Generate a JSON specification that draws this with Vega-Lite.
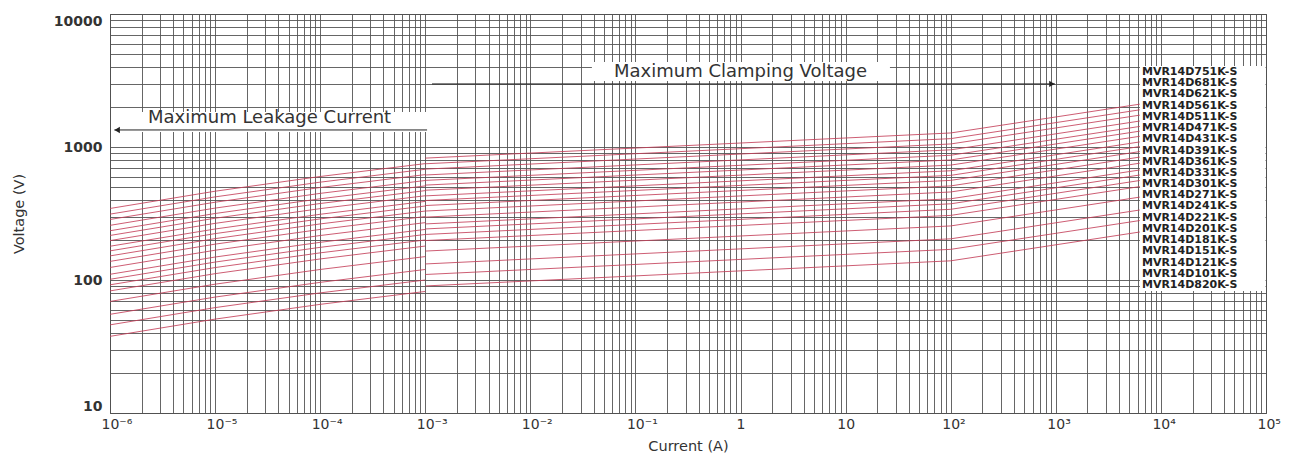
{
  "$schema": "https://vega.github.io/schema/vega-lite/v6.json",
  "width": 1156,
  "height": 399,
  "autosize": {"type": "none"},
  "padding": {"left": 110, "top": 14, "right": 30, "bottom": 48},
  "background": "white",
  "config": {
    "view": {"stroke": "#333", "strokeWidth": 1},
    "font": "DejaVu Sans",
    "axis": {
      "domain": false,
      "ticks": false,
      "grid": true,
      "gridColor": "#555",
      "gridWidth": 0.9,
      "gridOpacity": 1,
      "labelOverlap": false,
      "labelBound": false,
      "labelColor": "#333",
      "titleColor": "#333",
      "titleFont": "DejaVu Sans",
      "titleFontWeight": "normal",
      "titleFontSize": 14.5
    }
  },
  "datasets": {
    "lines": [
      {"p":"820","s":"L","i":1e-6,"v":37.7},{"p":"820","s":"L","i":1e-5,"v":50.8},{"p":"820","s":"L","i":1e-4,"v":65.6},{"p":"820","s":"L","i":1e-3,"v":82},{"p":"820","s":"C","i":1e-3,"v":90.2},{"p":"820","s":"C","i":100,"v":139.4},{"p":"820","s":"C","i":6310,"v":229.6},
      {"p":"101","s":"L","i":1e-6,"v":46},{"p":"101","s":"L","i":1e-5,"v":62},{"p":"101","s":"L","i":1e-4,"v":80},{"p":"101","s":"L","i":1e-3,"v":100},{"p":"101","s":"C","i":1e-3,"v":110},{"p":"101","s":"C","i":100,"v":170},{"p":"101","s":"C","i":6310,"v":280},
      {"p":"121","s":"L","i":1e-6,"v":55.2},{"p":"121","s":"L","i":1e-5,"v":74.4},{"p":"121","s":"L","i":1e-4,"v":96},{"p":"121","s":"L","i":1e-3,"v":120},{"p":"121","s":"C","i":1e-3,"v":132},{"p":"121","s":"C","i":100,"v":204},{"p":"121","s":"C","i":6310,"v":336},
      {"p":"151","s":"L","i":1e-6,"v":69},{"p":"151","s":"L","i":1e-5,"v":93},{"p":"151","s":"L","i":1e-4,"v":120},{"p":"151","s":"L","i":1e-3,"v":150},{"p":"151","s":"C","i":1e-3,"v":165},{"p":"151","s":"C","i":100,"v":255},{"p":"151","s":"C","i":6310,"v":420},
      {"p":"181","s":"L","i":1e-6,"v":82.8},{"p":"181","s":"L","i":1e-5,"v":111.6},{"p":"181","s":"L","i":1e-4,"v":144},{"p":"181","s":"L","i":1e-3,"v":180},{"p":"181","s":"C","i":1e-3,"v":198},{"p":"181","s":"C","i":100,"v":306},{"p":"181","s":"C","i":6310,"v":504},
      {"p":"201","s":"L","i":1e-6,"v":92},{"p":"201","s":"L","i":1e-5,"v":124},{"p":"201","s":"L","i":1e-4,"v":160},{"p":"201","s":"L","i":1e-3,"v":200},{"p":"201","s":"C","i":1e-3,"v":220},{"p":"201","s":"C","i":100,"v":340},{"p":"201","s":"C","i":6310,"v":560},
      {"p":"221","s":"L","i":1e-6,"v":101.2},{"p":"221","s":"L","i":1e-5,"v":136.4},{"p":"221","s":"L","i":1e-4,"v":176},{"p":"221","s":"L","i":1e-3,"v":220},{"p":"221","s":"C","i":1e-3,"v":242},{"p":"221","s":"C","i":100,"v":374},{"p":"221","s":"C","i":6310,"v":616},
      {"p":"241","s":"L","i":1e-6,"v":110.4},{"p":"241","s":"L","i":1e-5,"v":148.8},{"p":"241","s":"L","i":1e-4,"v":192},{"p":"241","s":"L","i":1e-3,"v":240},{"p":"241","s":"C","i":1e-3,"v":264},{"p":"241","s":"C","i":100,"v":408},{"p":"241","s":"C","i":6310,"v":672},
      {"p":"271","s":"L","i":1e-6,"v":124.2},{"p":"271","s":"L","i":1e-5,"v":167.4},{"p":"271","s":"L","i":1e-4,"v":216},{"p":"271","s":"L","i":1e-3,"v":270},{"p":"271","s":"C","i":1e-3,"v":297},{"p":"271","s":"C","i":100,"v":459},{"p":"271","s":"C","i":6310,"v":756},
      {"p":"301","s":"L","i":1e-6,"v":138},{"p":"301","s":"L","i":1e-5,"v":186},{"p":"301","s":"L","i":1e-4,"v":240},{"p":"301","s":"L","i":1e-3,"v":300},{"p":"301","s":"C","i":1e-3,"v":330},{"p":"301","s":"C","i":100,"v":510},{"p":"301","s":"C","i":6310,"v":840},
      {"p":"331","s":"L","i":1e-6,"v":151.8},{"p":"331","s":"L","i":1e-5,"v":204.6},{"p":"331","s":"L","i":1e-4,"v":264},{"p":"331","s":"L","i":1e-3,"v":330},{"p":"331","s":"C","i":1e-3,"v":363},{"p":"331","s":"C","i":100,"v":561},{"p":"331","s":"C","i":6310,"v":924},
      {"p":"361","s":"L","i":1e-6,"v":165.6},{"p":"361","s":"L","i":1e-5,"v":223.2},{"p":"361","s":"L","i":1e-4,"v":288},{"p":"361","s":"L","i":1e-3,"v":360},{"p":"361","s":"C","i":1e-3,"v":396},{"p":"361","s":"C","i":100,"v":612},{"p":"361","s":"C","i":6310,"v":1008},
      {"p":"391","s":"L","i":1e-6,"v":179.4},{"p":"391","s":"L","i":1e-5,"v":241.8},{"p":"391","s":"L","i":1e-4,"v":312},{"p":"391","s":"L","i":1e-3,"v":390},{"p":"391","s":"C","i":1e-3,"v":429},{"p":"391","s":"C","i":100,"v":663},{"p":"391","s":"C","i":6310,"v":1092},
      {"p":"431","s":"L","i":1e-6,"v":197.8},{"p":"431","s":"L","i":1e-5,"v":266.6},{"p":"431","s":"L","i":1e-4,"v":344},{"p":"431","s":"L","i":1e-3,"v":430},{"p":"431","s":"C","i":1e-3,"v":473},{"p":"431","s":"C","i":100,"v":731},{"p":"431","s":"C","i":6310,"v":1204},
      {"p":"471","s":"L","i":1e-6,"v":216.2},{"p":"471","s":"L","i":1e-5,"v":291.4},{"p":"471","s":"L","i":1e-4,"v":376},{"p":"471","s":"L","i":1e-3,"v":470},{"p":"471","s":"C","i":1e-3,"v":517},{"p":"471","s":"C","i":100,"v":799},{"p":"471","s":"C","i":6310,"v":1316},
      {"p":"511","s":"L","i":1e-6,"v":234.6},{"p":"511","s":"L","i":1e-5,"v":316.2},{"p":"511","s":"L","i":1e-4,"v":408},{"p":"511","s":"L","i":1e-3,"v":510},{"p":"511","s":"C","i":1e-3,"v":561},{"p":"511","s":"C","i":100,"v":867},{"p":"511","s":"C","i":6310,"v":1428},
      {"p":"561","s":"L","i":1e-6,"v":257.6},{"p":"561","s":"L","i":1e-5,"v":347.2},{"p":"561","s":"L","i":1e-4,"v":448},{"p":"561","s":"L","i":1e-3,"v":560},{"p":"561","s":"C","i":1e-3,"v":616},{"p":"561","s":"C","i":100,"v":952},{"p":"561","s":"C","i":6310,"v":1568},
      {"p":"621","s":"L","i":1e-6,"v":285.2},{"p":"621","s":"L","i":1e-5,"v":384.4},{"p":"621","s":"L","i":1e-4,"v":496},{"p":"621","s":"L","i":1e-3,"v":620},{"p":"621","s":"C","i":1e-3,"v":682},{"p":"621","s":"C","i":100,"v":1054},{"p":"621","s":"C","i":6310,"v":1736},
      {"p":"681","s":"L","i":1e-6,"v":312.8},{"p":"681","s":"L","i":1e-5,"v":421.6},{"p":"681","s":"L","i":1e-4,"v":544},{"p":"681","s":"L","i":1e-3,"v":680},{"p":"681","s":"C","i":1e-3,"v":748},{"p":"681","s":"C","i":100,"v":1156},{"p":"681","s":"C","i":6310,"v":1904},
      {"p":"751","s":"L","i":1e-6,"v":345},{"p":"751","s":"L","i":1e-5,"v":465},{"p":"751","s":"L","i":1e-4,"v":600},{"p":"751","s":"L","i":1e-3,"v":750},{"p":"751","s":"C","i":1e-3,"v":825},{"p":"751","s":"C","i":100,"v":1275},{"p":"751","s":"C","i":6310,"v":2100}
    ],
    "boxes": [
      {"i":1.07e-6,"i2":1.04e-3,"v":1833,"v2":1297},
      {"i":0.0385,"i2":26.4,"v":4355,"v2":3133},
      {"i":6310,"i2":99000,"v":4064,"v2":82.6}
    ],
    "arrows": [
      {"i":1.1e-6,"i2":1.04e-3,"v":1343},
      {"i":1.16e-3,"i2":980,"v":2979}
    ],
    "heads": [
      {"k":"left","i":1.17e-6,"v":1343},
      {"k":"right","i":918,"v":2979}
    ],
    "notes": [
      {"i":3.3e-5,"v":1652,"t":"Maximum Leakage Current"},
      {"i":1.0,"v":3664,"t":"Maximum Clamping Voltage"}
    ],
    "labels": [
      {"i":6600,"v":3664,"t":"MVR14D751K-S"},
      {"i":6600,"v":3017,"t":"MVR14D681K-S"},
      {"i":6600,"v":2486,"t":"MVR14D621K-S"},
      {"i":6600,"v":2048,"t":"MVR14D561K-S"},
      {"i":6600,"v":1687,"t":"MVR14D511K-S"},
      {"i":6600,"v":1387,"t":"MVR14D471K-S"},
      {"i":6600,"v":1143,"t":"MVR14D431K-S"},
      {"i":6600,"v":941,"t":"MVR14D391K-S"},
      {"i":6600,"v":775,"t":"MVR14D361K-S"},
      {"i":6600,"v":639,"t":"MVR14D331K-S"},
      {"i":6600,"v":526,"t":"MVR14D301K-S"},
      {"i":6600,"v":433,"t":"MVR14D271K-S"},
      {"i":6600,"v":357,"t":"MVR14D241K-S"},
      {"i":6600,"v":294,"t":"MVR14D221K-S"},
      {"i":6600,"v":242,"t":"MVR14D201K-S"},
      {"i":6600,"v":199,"t":"MVR14D181K-S"},
      {"i":6600,"v":164,"t":"MVR14D151K-S"},
      {"i":6600,"v":135,"t":"MVR14D121K-S"},
      {"i":6600,"v":111.3,"t":"MVR14D101K-S"},
      {"i":6600,"v":91.7,"t":"MVR14D820K-S"}
    ]
  },
  "layer": [
    {
      "data": {"name": "lines"},
      "mark": {"type": "line", "stroke": "#c4405a", "strokeWidth": 0.85, "interpolate": "linear"},
      "encoding": {
        "x": {
          "field": "i", "type": "quantitative",
          "scale": {"type": "log", "domain": [1e-6, 100000], "nice": false},
          "axis": {
            "title": "Current (A)",
            "titlePadding": 8,
            "labelFont": "DejaVu Sans",
            "labelFontSize": 14,
            "labelPadding": 4,
            "labelFlush": false,
            "labelAlign": {"condition": {"test": "datum.value < 1 || datum.value > 10", "value": "left"}, "value": "center"},
            "labelOffset": {"condition": {"test": "datum.value < 1 || datum.value > 10", "value": -9}, "value": 0},
            "values": [1e-6,2e-6,3e-6,4e-6,5e-6,6e-6,7e-6,8e-6,9e-6,
                       1e-5,2e-5,3e-5,4e-5,5e-5,6e-5,7e-5,8e-5,9e-5,
                       1e-4,2e-4,3e-4,4e-4,5e-4,6e-4,7e-4,8e-4,9e-4,
                       0.001,0.002,0.003,0.004,0.005,0.006,0.007,0.008,0.009,
                       0.01,0.02,0.03,0.04,0.05,0.06,0.07,0.08,0.09,
                       0.1,0.2,0.3,0.4,0.5,0.6,0.7,0.8,0.9,
                       1,2,3,4,5,6,7,8,9,
                       10,20,30,40,50,60,70,80,90,
                       100,200,300,400,500,600,700,800,900,
                       1000,2000,3000,4000,5000,6000,7000,8000,9000,
                       10000,20000,30000,40000,50000,60000,70000,80000,90000,100000],
            "labelExpr": "datum.value === 0.000001 ? '10⁻⁶' : datum.value === 0.00001 ? '10⁻⁵' : datum.value === 0.0001 ? '10⁻⁴' : datum.value === 0.001 ? '10⁻³' : datum.value === 0.01 ? '10⁻²' : datum.value === 0.1 ? '10⁻¹' : datum.value === 1 ? '1' : datum.value === 10 ? '10' : datum.value === 100 ? '10²' : datum.value === 1000 ? '10³' : datum.value === 10000 ? '10⁴' : datum.value === 100000 ? '10⁵' : ''"
          }
        },
        "y": {
          "field": "v", "type": "quantitative",
          "scale": {"type": "log", "domain": [10, 10000], "nice": false},
          "axis": {
            "title": "Voltage (V)",
            "titlePadding": 27,
            "labelFont": "DejaVu Sans",
            "labelFontWeight": "bold",
            "labelFontSize": 14,
            "labelPadding": 8,
            "labelFlush": true,
            "values": [10,20,30,40,50,60,70,80,90,100,200,300,400,500,600,700,800,900,1000,2000,3000,4000,5000,6000,7000,8000,9000,10000],
            "labelExpr": "datum.value === 10 ? '10' : datum.value === 100 ? '100' : datum.value === 1000 ? '1000' : datum.value === 10000 ? '10000' : ''"
          }
        },
        "detail": [{"field": "p"}, {"field": "s"}]
      }
    },
    {
      "data": {"name": "boxes"},
      "mark": {"type": "rect", "fill": "white", "stroke": null},
      "encoding": {
        "x": {"field": "i", "type": "quantitative"},
        "x2": {"field": "i2"},
        "y": {"field": "v", "type": "quantitative"},
        "y2": {"field": "v2"}
      }
    },
    {
      "data": {"name": "arrows"},
      "mark": {"type": "rule", "stroke": "#222", "strokeWidth": 1},
      "encoding": {
        "x": {"field": "i", "type": "quantitative"},
        "x2": {"field": "i2"},
        "y": {"field": "v", "type": "quantitative"}
      }
    },
    {
      "data": {"name": "heads"},
      "transform": [{"filter": "datum.k === 'left'"}],
      "mark": {"type": "point", "shape": "triangle-left", "filled": true, "fill": "#222", "size": 40, "opacity": 1},
      "encoding": {
        "x": {"field": "i", "type": "quantitative"},
        "y": {"field": "v", "type": "quantitative"}
      }
    },
    {
      "data": {"name": "heads"},
      "transform": [{"filter": "datum.k === 'right'"}],
      "mark": {"type": "point", "shape": "triangle-right", "filled": true, "fill": "#222", "size": 40, "opacity": 1},
      "encoding": {
        "x": {"field": "i", "type": "quantitative"},
        "y": {"field": "v", "type": "quantitative"}
      }
    },
    {
      "data": {"name": "notes"},
      "mark": {"type": "text", "font": "DejaVu Sans", "fontSize": 18, "fill": "#333", "align": "center", "baseline": "middle"},
      "encoding": {
        "x": {"field": "i", "type": "quantitative"},
        "y": {"field": "v", "type": "quantitative"},
        "text": {"field": "t"}
      }
    },
    {
      "data": {"name": "labels"},
      "mark": {"type": "text", "font": "DejaVu Sans", "fontWeight": "bold", "fontSize": 11, "fill": "#222", "align": "left", "baseline": "middle"},
      "encoding": {
        "x": {"field": "i", "type": "quantitative"},
        "y": {"field": "v", "type": "quantitative"},
        "text": {"field": "t"}
      }
    }
  ]
}
